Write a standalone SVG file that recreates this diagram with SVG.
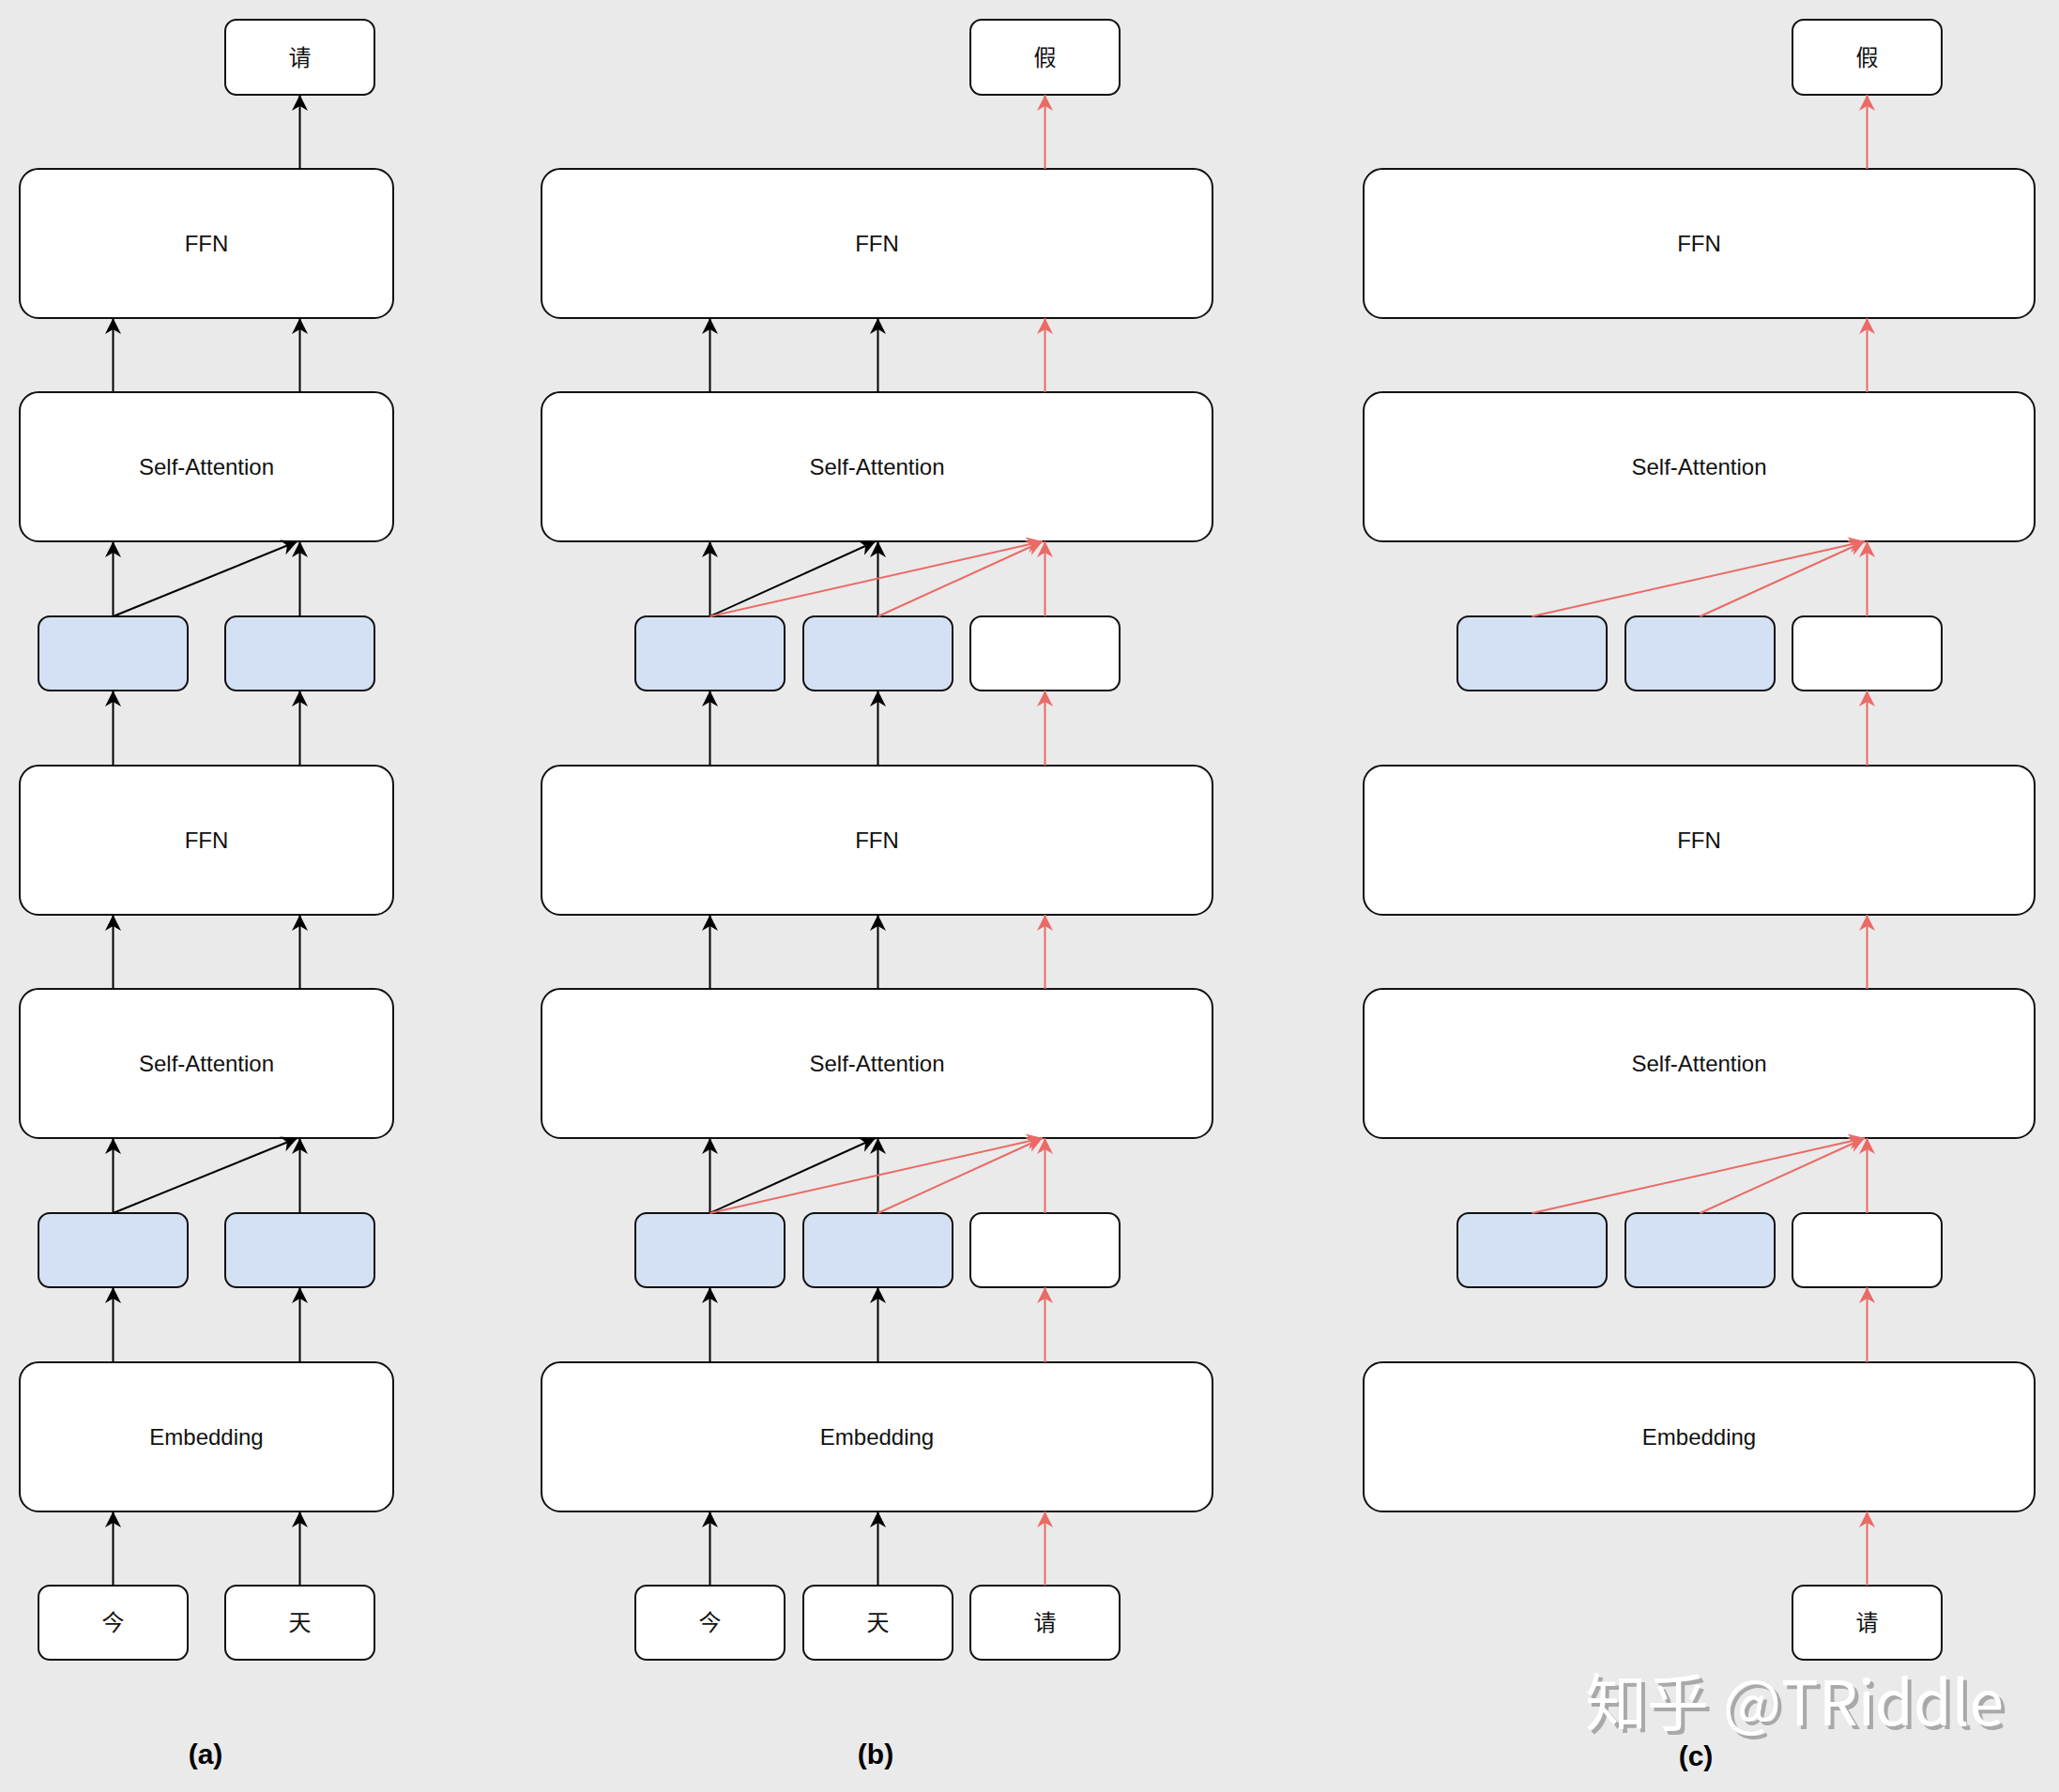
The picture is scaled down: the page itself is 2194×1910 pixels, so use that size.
<svg xmlns="http://www.w3.org/2000/svg" width="2194" height="1910" viewBox="0 0 2194 1910">
<defs>
<style>
.big{fill:#ffffff;stroke:#111111;stroke-width:2}
.sm{fill:#ffffff;stroke:#111111;stroke-width:2}
.bl{fill:#d4e1f5;stroke:#111111;stroke-width:2}
.lbl{font-family:"Liberation Sans",Arial,sans-serif;font-size:24px;fill:#111111;text-anchor:middle}
.cjk{font-family:"Noto Sans CJK SC",sans-serif;font-size:24px;fill:#111111;text-anchor:middle}
.cap{font-family:"Liberation Sans",Arial,sans-serif;font-size:30px;font-weight:bold;fill:#000000;text-anchor:middle}
.k{stroke:#000000;stroke-width:2;fill:none;marker-end:url(#ak)}
.r{stroke:#ea6b66;stroke-width:2;fill:none;marker-end:url(#ar)}
.wm{font-family:"Noto Sans CJK SC",sans-serif;font-size:66px}
</style>
<marker id="ak" markerUnits="userSpaceOnUse" viewBox="-19 -10 20 20" markerWidth="20" markerHeight="20" refX="0" refY="0" orient="auto">
<path d="M0,0 L-17,-8.5 L-12,0 L-17,8.5 Z" fill="#000000"/>
</marker>
<marker id="ar" markerUnits="userSpaceOnUse" viewBox="-19 -10 20 20" markerWidth="20" markerHeight="20" refX="0" refY="0" orient="auto">
<path d="M0,0 L-17,-8.5 L-12,0 L-17,8.5 Z" fill="#ea6b66"/>
</marker>
</defs>
<rect x="0" y="0" width="2194" height="1910" fill="#eaeaea"/>

<!-- Panel (a) -->
<g id="a-out"><rect class="sm" x="240" y="21" width="159" height="80" rx="12"/><text class="cjk" x="319.5" y="69.5">请</text></g>
<g id="a-ffn2"><rect class="big" x="21" y="180" width="398" height="159" rx="20"/><text class="lbl" x="220" y="268">FFN</text></g>
<g id="a-sa2"><rect class="big" x="21" y="418" width="398" height="159" rx="20"/><text class="lbl" x="220" y="506">Self-Attention</text></g>
<g id="a-h2-1"><rect class="bl" x="41" y="657" width="159" height="79" rx="12"/></g>
<g id="a-h2-2"><rect class="bl" x="240" y="657" width="159" height="79" rx="12"/></g>
<g id="a-ffn1"><rect class="big" x="21" y="816" width="398" height="159" rx="20"/><text class="lbl" x="220" y="904">FFN</text></g>
<g id="a-sa1"><rect class="big" x="21" y="1054" width="398" height="159" rx="20"/><text class="lbl" x="220" y="1142">Self-Attention</text></g>
<g id="a-h1-1"><rect class="bl" x="41" y="1293" width="159" height="79" rx="12"/></g>
<g id="a-h1-2"><rect class="bl" x="240" y="1293" width="159" height="79" rx="12"/></g>
<g id="a-emb"><rect class="big" x="21" y="1452" width="398" height="159" rx="20"/><text class="lbl" x="220" y="1540">Embedding</text></g>
<g id="a-in1"><rect class="sm" x="41" y="1690" width="159" height="79" rx="12"/><text class="cjk" x="120.5" y="1738">今</text></g>
<g id="a-in2"><rect class="sm" x="240" y="1690" width="159" height="79" rx="12"/><text class="cjk" x="319.5" y="1738">天</text></g>
<g id="a-cap"><text class="cap" x="219" y="1880">(a)</text></g>

<!-- Panel (b) -->
<g id="b-out"><rect class="sm" x="1034" y="21" width="159" height="80" rx="12"/><text class="cjk" x="1113.5" y="69.5">假</text></g>
<g id="b-ffn2"><rect class="big" x="577" y="180" width="715" height="159" rx="20"/><text class="lbl" x="934.5" y="268">FFN</text></g>
<g id="b-sa2"><rect class="big" x="577" y="418" width="715" height="159" rx="20"/><text class="lbl" x="934.5" y="506">Self-Attention</text></g>
<g id="b-h2-1"><rect class="bl" x="677" y="657" width="159" height="79" rx="12"/></g>
<g id="b-h2-2"><rect class="bl" x="856" y="657" width="159" height="79" rx="12"/></g>
<g id="b-h2-3"><rect class="sm" x="1034" y="657" width="159" height="79" rx="12"/></g>
<g id="b-ffn1"><rect class="big" x="577" y="816" width="715" height="159" rx="20"/><text class="lbl" x="934.5" y="904">FFN</text></g>
<g id="b-sa1"><rect class="big" x="577" y="1054" width="715" height="159" rx="20"/><text class="lbl" x="934.5" y="1142">Self-Attention</text></g>
<g id="b-h1-1"><rect class="bl" x="677" y="1293" width="159" height="79" rx="12"/></g>
<g id="b-h1-2"><rect class="bl" x="856" y="1293" width="159" height="79" rx="12"/></g>
<g id="b-h1-3"><rect class="sm" x="1034" y="1293" width="159" height="79" rx="12"/></g>
<g id="b-emb"><rect class="big" x="577" y="1452" width="715" height="159" rx="20"/><text class="lbl" x="934.5" y="1540">Embedding</text></g>
<g id="b-in1"><rect class="sm" x="677" y="1690" width="159" height="79" rx="12"/><text class="cjk" x="756.5" y="1738">今</text></g>
<g id="b-in2"><rect class="sm" x="856" y="1690" width="159" height="79" rx="12"/><text class="cjk" x="935.5" y="1738">天</text></g>
<g id="b-in3"><rect class="sm" x="1034" y="1690" width="159" height="79" rx="12"/><text class="cjk" x="1113.5" y="1738">请</text></g>
<g id="b-cap"><text class="cap" x="933" y="1880">(b)</text></g>

<!-- Panel (c) -->
<g id="c-out"><rect class="sm" x="1910" y="21" width="159" height="80" rx="12"/><text class="cjk" x="1989.5" y="69.5">假</text></g>
<g id="c-ffn2"><rect class="big" x="1453" y="180" width="715" height="159" rx="20"/><text class="lbl" x="1810.5" y="268">FFN</text></g>
<g id="c-sa2"><rect class="big" x="1453" y="418" width="715" height="159" rx="20"/><text class="lbl" x="1810.5" y="506">Self-Attention</text></g>
<g id="c-h2-1"><rect class="bl" x="1553" y="657" width="159" height="79" rx="12"/></g>
<g id="c-h2-2"><rect class="bl" x="1732" y="657" width="159" height="79" rx="12"/></g>
<g id="c-h2-3"><rect class="sm" x="1910" y="657" width="159" height="79" rx="12"/></g>
<g id="c-ffn1"><rect class="big" x="1453" y="816" width="715" height="159" rx="20"/><text class="lbl" x="1810.5" y="904">FFN</text></g>
<g id="c-sa1"><rect class="big" x="1453" y="1054" width="715" height="159" rx="20"/><text class="lbl" x="1810.5" y="1142">Self-Attention</text></g>
<g id="c-h1-1"><rect class="bl" x="1553" y="1293" width="159" height="79" rx="12"/></g>
<g id="c-h1-2"><rect class="bl" x="1732" y="1293" width="159" height="79" rx="12"/></g>
<g id="c-h1-3"><rect class="sm" x="1910" y="1293" width="159" height="79" rx="12"/></g>
<g id="c-emb"><rect class="big" x="1453" y="1452" width="715" height="159" rx="20"/><text class="lbl" x="1810.5" y="1540">Embedding</text></g>
<g id="c-in3"><rect class="sm" x="1910" y="1690" width="159" height="79" rx="12"/><text class="cjk" x="1989.5" y="1738">请</text></g>
<g id="c-cap"><text class="cap" x="1807" y="1882">(c)</text></g>

<g id="connectors">
<!-- (a) -->
<line class="k" x1="319.5" y1="180" x2="319.5" y2="101"/>
<line class="k" x1="120.5" y1="418" x2="120.5" y2="339"/>
<line class="k" x1="319.5" y1="418" x2="319.5" y2="339"/>
<line class="k" x1="120.5" y1="657" x2="120.5" y2="577"/>
<line class="k" x1="319.5" y1="657" x2="319.5" y2="577"/>
<line class="k" x1="120.5" y1="657" x2="317" y2="577"/>
<line class="k" x1="120.5" y1="816" x2="120.5" y2="736"/>
<line class="k" x1="319.5" y1="816" x2="319.5" y2="736"/>
<line class="k" x1="120.5" y1="1054" x2="120.5" y2="975"/>
<line class="k" x1="319.5" y1="1054" x2="319.5" y2="975"/>
<line class="k" x1="120.5" y1="1293" x2="120.5" y2="1213"/>
<line class="k" x1="319.5" y1="1293" x2="319.5" y2="1213"/>
<line class="k" x1="120.5" y1="1293" x2="317" y2="1213"/>
<line class="k" x1="120.5" y1="1452" x2="120.5" y2="1372"/>
<line class="k" x1="319.5" y1="1452" x2="319.5" y2="1372"/>
<line class="k" x1="120.5" y1="1690" x2="120.5" y2="1611"/>
<line class="k" x1="319.5" y1="1690" x2="319.5" y2="1611"/>
<!-- (b) -->
<line class="r" x1="1113.5" y1="180" x2="1113.5" y2="101"/>
<line class="k" x1="756.5" y1="418" x2="756.5" y2="339"/>
<line class="k" x1="935.5" y1="418" x2="935.5" y2="339"/>
<line class="r" x1="1113.5" y1="418" x2="1113.5" y2="339"/>
<line class="k" x1="756.5" y1="657" x2="756.5" y2="577"/>
<line class="k" x1="935.5" y1="657" x2="935.5" y2="577"/>
<line class="k" x1="756.5" y1="657" x2="933" y2="577"/>
<line class="r" x1="756.5" y1="657" x2="1111" y2="577"/>
<line class="r" x1="935.5" y1="657" x2="1111" y2="577"/>
<line class="r" x1="1113.5" y1="657" x2="1113.5" y2="577"/>
<line class="k" x1="756.5" y1="816" x2="756.5" y2="736"/>
<line class="k" x1="935.5" y1="816" x2="935.5" y2="736"/>
<line class="r" x1="1113.5" y1="816" x2="1113.5" y2="736"/>
<line class="k" x1="756.5" y1="1054" x2="756.5" y2="975"/>
<line class="k" x1="935.5" y1="1054" x2="935.5" y2="975"/>
<line class="r" x1="1113.5" y1="1054" x2="1113.5" y2="975"/>
<line class="k" x1="756.5" y1="1293" x2="756.5" y2="1213"/>
<line class="k" x1="935.5" y1="1293" x2="935.5" y2="1213"/>
<line class="k" x1="756.5" y1="1293" x2="933" y2="1213"/>
<line class="r" x1="756.5" y1="1293" x2="1111" y2="1213"/>
<line class="r" x1="935.5" y1="1293" x2="1111" y2="1213"/>
<line class="r" x1="1113.5" y1="1293" x2="1113.5" y2="1213"/>
<line class="k" x1="756.5" y1="1452" x2="756.5" y2="1372"/>
<line class="k" x1="935.5" y1="1452" x2="935.5" y2="1372"/>
<line class="r" x1="1113.5" y1="1452" x2="1113.5" y2="1372"/>
<line class="k" x1="756.5" y1="1690" x2="756.5" y2="1611"/>
<line class="k" x1="935.5" y1="1690" x2="935.5" y2="1611"/>
<line class="r" x1="1113.5" y1="1690" x2="1113.5" y2="1611"/>
<!-- (c) -->
<line class="r" x1="1989.5" y1="180" x2="1989.5" y2="101"/>
<line class="r" x1="1989.5" y1="418" x2="1989.5" y2="339"/>
<line class="r" x1="1632.5" y1="657" x2="1987" y2="577"/>
<line class="r" x1="1811.5" y1="657" x2="1987" y2="577"/>
<line class="r" x1="1989.5" y1="657" x2="1989.5" y2="577"/>
<line class="r" x1="1989.5" y1="816" x2="1989.5" y2="736"/>
<line class="r" x1="1989.5" y1="1054" x2="1989.5" y2="975"/>
<line class="r" x1="1632.5" y1="1293" x2="1987" y2="1213"/>
<line class="r" x1="1811.5" y1="1293" x2="1987" y2="1213"/>
<line class="r" x1="1989.5" y1="1293" x2="1989.5" y2="1213"/>
<line class="r" x1="1989.5" y1="1452" x2="1989.5" y2="1372"/>
<line class="r" x1="1989.5" y1="1690" x2="1989.5" y2="1611"/>
</g>

<g id="watermark">
<text class="wm" x="1693" y="1843" fill="#a9a9a9">知乎 @TRiddle</text>
<text class="wm" x="1689" y="1839" fill="#ffffff">知乎 @TRiddle</text>
</g>
</svg>
